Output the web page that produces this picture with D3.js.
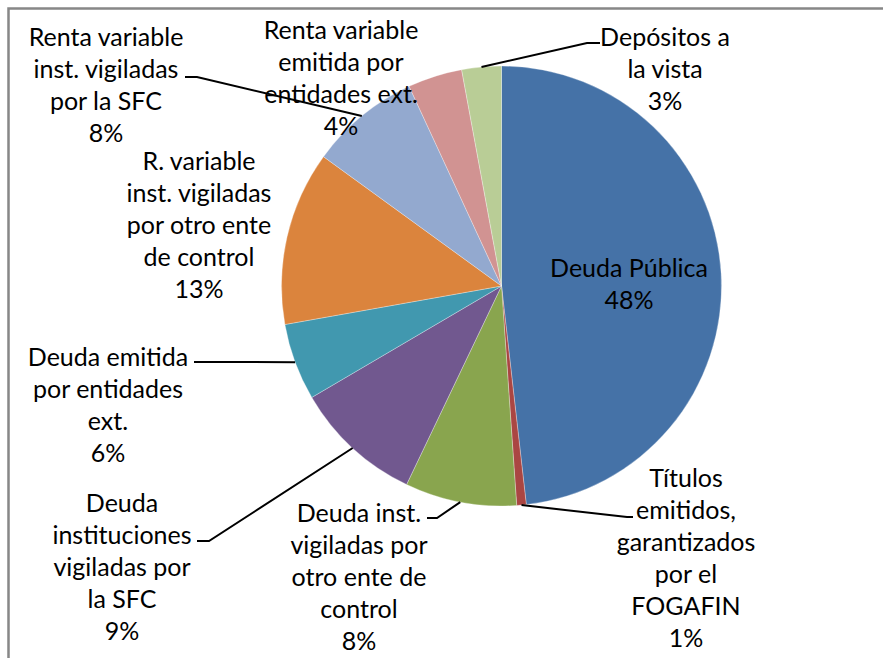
<!DOCTYPE html>
<html>
<head>
<meta charset="utf-8">
<script src="https://cdn.jsdelivr.net/npm/d3@7"></script>
<style>
  body { margin: 0; background: #fff; }
  text { font-family: Lato, "Open Sans", sans-serif; fill: #000; }
</style>
</head>
<body>
<div id="chart"></div>
<script>
// Portfolio composition, clockwise from 12 o'clock
const categories = [
  "Deuda Pública",
  "Títulos emitidos, garantizados por el FOGAFIN",
  "Deuda inst. vigiladas por otro ente de control",
  "Deuda instituciones vigiladas por la SFC",
  "Deuda emitida por entidades ext.",
  "R. variable inst. vigiladas por otro ente de control",
  "Renta variable inst. vigiladas por la SFC",
  "Renta variable emitida por entidades ext.",
  "Depósitos a la vista"
];
const shares = [48.2, 0.7, 8.2, 9.45, 5.65, 12.8, 8.1, 4.0, 2.9];

// Label line breaks as they appear in the chart
const labelLines = [
  ["Deuda Pública"],
  ["Títulos", "emitidos,", "garantizados", "por el", "FOGAFIN"],
  ["Deuda inst.", "vigiladas por", "otro ente de", "control"],
  ["Deuda", "instituciones", "vigiladas por", "la SFC"],
  ["Deuda emitida", "por entidades", "ext."],
  ["R. variable", "inst. vigiladas", "por otro ente", "de control"],
  ["Renta variable", "inst. vigiladas", "por la SFC"],
  ["Renta variable", "emitida por", "entidades ext."],
  ["Depósitos a", "la vista"]
];

const colors = ["#4572A7", "#AA4643", "#89A54E", "#71588F", "#4198AF",
                "#DB843D", "#93A9CF", "#D19392", "#B9CD96"];

// Label placement: block centre x, first line y, leader elbow + end (null = no leader)
const labelLayout = [
  { x: 629, y: 268, leader: null },
  { x: 686, y: 478, leader: [[627, 517], [633, 517]] },
  { x: 359, y: 513, leader: [[437, 518], [427, 518]] },
  { x: 122, y: 503, leader: [[209, 541], [197, 541]] },
  { x: 108, y: 357, leader: [[194, 362]] },
  { x: 199, y: 161, leader: null },
  { x: 106, y: 37,  leader: [[197, 77], [185, 77]] },
  { x: 341, y: 30,  leader: null },
  { x: 665, y: 37,  leader: [[587, 43], [600, 43]] }
];

const W = 883, H = 658;
const cx = 501.5, cy = 286, radius = 220;
const lineGap = 32;
const fontSize = 25;

const svg = d3.select("#chart")
  .append("svg")
    .attr("width", W)
    .attr("height", H);

// Chart area border (runs off the right and bottom edges)
svg.append("rect")
  .attr("x", 8.5)
  .attr("y", 8.5)
  .attr("width", W + 20)
  .attr("height", H + 20)
  .attr("fill", "none")
  .attr("stroke", "#878787")
  .attr("stroke-width", 2.5);

const data = categories.map((c, i) => ({ name: c, value: shares[i], i }));

const pie = d3.pie()
  .value(d => d.value)
  .sort(null);

const arcs = pie(data);

const arc = d3.arc()
  .innerRadius(0)
  .outerRadius(radius);

const g = svg.append("g")
  .attr("transform", `translate(${cx},${cy})`);

g.selectAll("path")
  .data(arcs)
  .enter()
  .append("path")
    .attr("d", arc)
    .attr("fill", d => colors[d.data.i])
    .attr("stroke", "#fff")
    .attr("stroke-width", 0.5)
    .attr("stroke-opacity", 0.6);

// Leader lines start on the rim at the slice's middle angle
const line = d3.line();
arcs.forEach(a => {
  const lay = labelLayout[a.data.i];
  if (!lay.leader) return;
  const mid = (a.startAngle + a.endAngle) / 2;
  const start = [cx + radius * Math.sin(mid), cy - radius * Math.cos(mid)];
  svg.append("path")
    .attr("d", line([start, ...lay.leader]))
    .attr("fill", "none")
    .attr("stroke", "#000")
    .attr("stroke-width", 2);
});

// Labels: category lines followed by rounded percentage
const total = d3.sum(shares);
arcs.forEach(a => {
  const lay = labelLayout[a.data.i];
  const lines = labelLines[a.data.i].concat([Math.round(a.data.value / total * 100) + "%"]);
  const t = svg.append("text")
    .attr("text-anchor", "middle")
    .style("font-size", fontSize + "px");
  lines.forEach((s, k) => {
    t.append("tspan")
      .attr("x", lay.x)
      .attr("y", lay.y + k * lineGap)
      .attr("dy", "0.36em")
      .text(s);
  });
});
</script>
</body>
</html>
